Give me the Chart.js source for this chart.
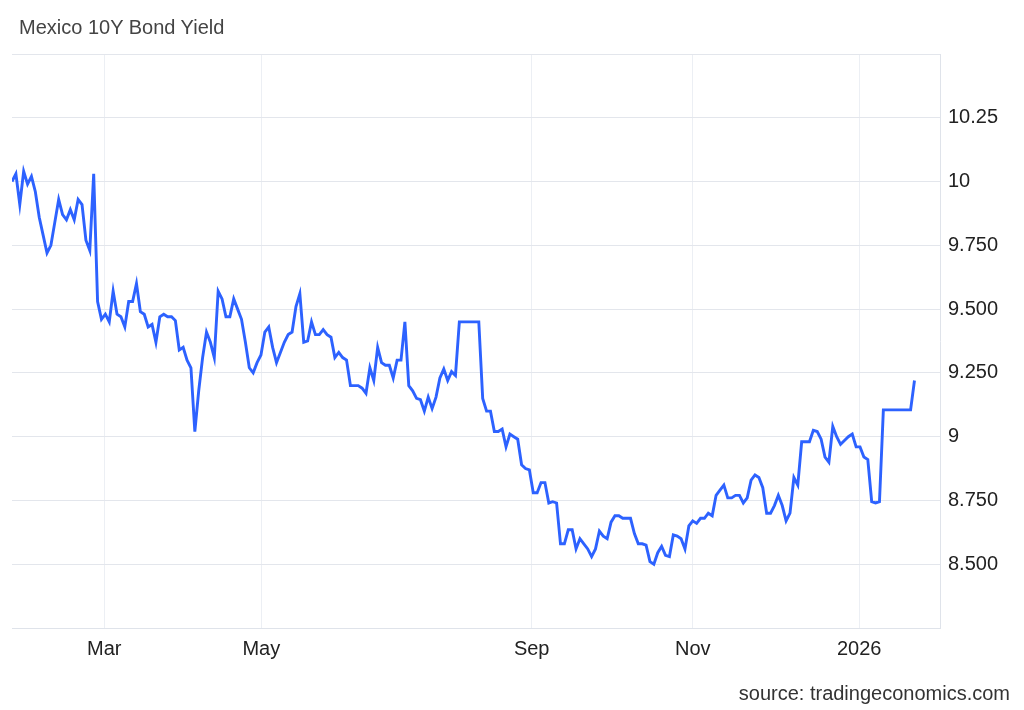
<!DOCTYPE html>
<html>
<head>
<meta charset="utf-8">
<script src="https://cdn.jsdelivr.net/npm/chart.js@4.4.1/dist/chart.umd.min.js"></script>
<style>
  html, body { margin: 0; padding: 0; background: #fff; }
  #wrap { position: relative; width: 1024px; height: 710px; font-family: "Liberation Sans", Arial, sans-serif; }
  #title { position: absolute; left: 19px; top: 17px; font-size: 20px; line-height: 20px; color: #444; }
  #source { position: absolute; right: 14px; top: 683px; font-size: 20px; line-height: 20px; color: #333; }
  canvas { position: absolute; left: 0; top: 0; }
</style>
</head>
<body>
<div id="wrap">
  <canvas id="yieldChart" width="1024" height="710"></canvas>
  <div id="title">Mexico 10Y Bond Yield</div>
  <div id="source">source: tradingeconomics.com</div>
</div>
<script>
// 利回りデータ（取引日ごと、グラフから読み取り）
const yields = [
  10.00, 10.03, 9.91, 10.04, 9.99, 10.02, 9.96, 9.86, 9.79, 9.72,
  9.75, 9.84, 9.93, 9.87, 9.85, 9.89, 9.85, 9.93, 9.91, 9.77,
  9.73, 10.03, 9.53, 9.46, 9.48, 9.45, 9.57, 9.48, 9.47, 9.43,
  9.53, 9.53, 9.60, 9.49, 9.48, 9.43, 9.44, 9.37, 9.47, 9.48,
  9.47, 9.47, 9.455, 9.34, 9.35, 9.30, 9.27, 9.02, 9.18, 9.31,
  9.41, 9.37, 9.31, 9.57, 9.54, 9.47, 9.47, 9.54, 9.50, 9.46,
  9.37, 9.27, 9.25, 9.29, 9.32, 9.41, 9.43, 9.35, 9.29, 9.33,
  9.37, 9.40, 9.41, 9.51, 9.56, 9.37, 9.375, 9.45, 9.40, 9.40,
  9.42, 9.40, 9.39, 9.31, 9.33, 9.31, 9.30, 9.20, 9.20, 9.20,
  9.19, 9.17, 9.27, 9.22, 9.35, 9.29, 9.28, 9.28, 9.23, 9.30,
  9.30, 9.45, 9.20, 9.18, 9.15, 9.145, 9.10, 9.155, 9.11, 9.155,
  9.23, 9.265, 9.22, 9.255, 9.24, 9.45, 9.45, 9.45, 9.45, 9.45,
  9.45, 9.15, 9.10, 9.10, 9.02, 9.02, 9.03, 8.96, 9.01, 9.00,
  8.99, 8.89, 8.875, 8.87, 8.78, 8.78, 8.82, 8.82, 8.74, 8.745,
  8.74, 8.58, 8.58, 8.635, 8.635, 8.56, 8.60, 8.58, 8.56, 8.53,
  8.56, 8.63, 8.61, 8.60, 8.665, 8.69, 8.69, 8.68, 8.68, 8.68,
  8.62, 8.58, 8.58, 8.575, 8.51, 8.50, 8.545, 8.57, 8.535, 8.53,
  8.615, 8.61, 8.60, 8.56, 8.65, 8.67, 8.66, 8.68, 8.68, 8.70,
  8.69, 8.77, 8.79, 8.81, 8.76, 8.76, 8.77, 8.77, 8.74, 8.76,
  8.83, 8.85, 8.84, 8.80, 8.70, 8.70, 8.73, 8.77, 8.73, 8.67,
  8.70, 8.84, 8.81, 8.98, 8.98, 8.98, 9.025, 9.02, 8.99, 8.92,
  8.90, 9.04, 9.00, 8.97, 8.985, 9.00, 9.01, 8.96, 8.96, 8.92,
  8.91, 8.745, 8.74, 8.745, 9.105, 9.105, 9.105, 9.105, 9.105, 9.105,
  9.105, 9.105, 9.22
];

// X軸の目盛り（データ番号上の位置とラベル）
const xTickPositions = [23.7, 64.1, 133.6, 175.0, 217.8];
const xTickLabels = ['Mar', 'May', 'Sep', 'Nov', '2026'];

// Y軸の目盛り
const yTickValues = [8.25, 8.5, 8.75, 9, 9.25, 9.5, 9.75, 10, 10.25, 10.5];
const yTickLabels = ['', '8.500', '8.750', '9', '9.250', '9.500', '9.750', '10', '10.25', ''];

const tickFont = { family: '"Liberation Sans", Arial, sans-serif', size: 20 };

const ctx = document.getElementById('yieldChart').getContext('2d');
new Chart(ctx, {
  type: 'line',
  data: {
    datasets: [{
      data: yields.map((v, i) => ({ x: i, y: v })),
      borderColor: '#2d62ff',
      borderWidth: 2.9,
      pointRadius: 0,
      tension: 0,
      fill: false
    }]
  },
  options: {
    responsive: false,
    animation: false,
    layout: { padding: { top: 54, left: 12, right: 0, bottom: 0 } },
    plugins: {
      legend: { display: false },
      title: { display: false },
      tooltip: { enabled: false }
    },
    scales: {
      x: {
        type: 'linear',
        min: 0,
        max: 238.56,
        afterFit: (scale) => { scale.height = 82; },
        afterBuildTicks: (scale) => {
          scale.ticks = xTickPositions.map(v => ({ value: v }));
        },
        grid: { color: '#eceff4', drawTicks: false },
        border: { color: '#dfe3ea' },
        ticks: {
          autoSkip: false,
          maxRotation: 0,
          padding: 9,
          color: '#222',
          font: tickFont,
          callback: (value, index) => xTickLabels[index]
        }
      },
      y: {
        position: 'right',
        min: 8.25,
        max: 10.5,
        afterFit: (scale) => { scale.width = 84; },
        afterBuildTicks: (scale) => {
          scale.ticks = yTickValues.map(v => ({ value: v }));
        },
        grid: { color: '#e3e6ec', drawTicks: false },
        border: { color: '#dfe3ea' },
        ticks: {
          padding: 8,
          color: '#222',
          font: tickFont,
          callback: (value, index) => yTickLabels[index]
        }
      }
    }
  }
});
</script>
</body>
</html>
